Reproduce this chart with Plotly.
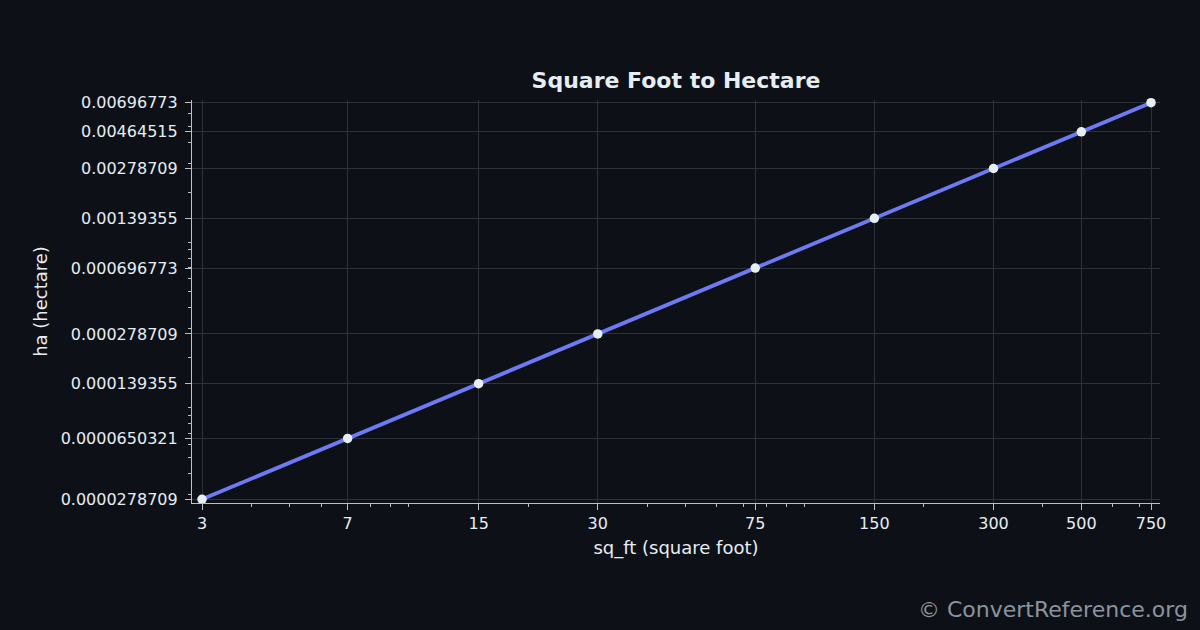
import plotly.graph_objects as go

# Data
sq_ft = [3, 7, 15, 30, 75, 150, 300, 500, 750]
hectare = [0.0000278709, 0.0000650321, 0.000139355, 0.000278709, 0.000696773,
           0.00139355, 0.00278709, 0.00464515, 0.00696773]
x_tick_labels = ["3", "7", "15", "30", "75", "150", "300", "500", "750"]
y_tick_labels = ["0.0000278709", "0.0000650321", "0.000139355", "0.000278709", "0.000696773",
                 "0.00139355", "0.00278709", "0.00464515", "0.00696773"]
x_minor = [4, 5, 6, 8, 9, 10, 20, 40, 50, 60, 70, 80, 90, 100, 200, 400, 600, 700]
y_minor = [3e-5, 4e-5, 5e-5, 6e-5, 7e-5, 8e-5, 9e-5, 1e-4, 2e-4, 3e-4, 4e-4, 5e-4,
           6e-4, 7e-4, 8e-4, 9e-4, 1e-3, 2e-3, 3e-3, 4e-3, 5e-3, 6e-3, 7e-3]

BG = "#0d1117"
TXT = "#e6edf3"
SPINE = "#b8c0c8"
GRID = "#2b323b"
FONT = "DejaVu Sans"

fig = go.Figure()
fig.add_trace(go.Scatter(
    x=sq_ft, y=hectare, mode="lines+markers",
    line=dict(color="#6e7af3", width=3.8),
    marker=dict(color="#e6edf3", size=9.5, line=dict(width=0)),
    cliponaxis=False,
    showlegend=False,
))

fig.update_layout(
    width=1200, height=630,
    paper_bgcolor=BG, plot_bgcolor=BG,
    margin=dict(l=192, r=40, t=100, b=127),
    font=dict(family=FONT, color=TXT, size=16),
    title=dict(text="<b>Square Foot to Hectare</b>", x=0.5, xref="paper",
               y=1 - 80 / 630, yref="container", xanchor="center", yanchor="middle",
               font=dict(size=22, color=TXT, family=FONT)),
    annotations=[dict(text="© ConvertReference.org", xref="paper", yref="paper",
                      x=(1190 - 192) / 968, y=(503 - 609) / 403,
                      xanchor="right", yanchor="middle", showarrow=False,
                      font=dict(size=22, color="#8b949e", family=FONT))],
)

fig.update_xaxes(
    type="log", range=[0.4518, 2.8978],
    tickmode="array", tickvals=sq_ft, ticktext=x_tick_labels,
    ticks="outside", ticklen=6, tickwidth=1.2, tickcolor=SPINE,
    showline=True, linecolor=SPINE, linewidth=1.2,
    showgrid=True, gridcolor=GRID, gridwidth=1, zeroline=False,
    tickfont=dict(size=16, color=TXT),
    minor=dict(tickmode="array", tickvals=x_minor, ticks="outside", ticklen=3,
               tickwidth=1, tickcolor=SPINE, showgrid=False),
    title=dict(text="sq_ft (square foot)", font=dict(size=18, color=TXT), standoff=9),
)
fig.update_yaxes(
    type="log", range=[-4.5773, -2.1406],
    tickmode="array", tickvals=hectare, ticktext=y_tick_labels,
    ticks="outside", ticklen=6, tickwidth=1.2, tickcolor=SPINE,
    showline=True, linecolor=SPINE, linewidth=1.2,
    showgrid=True, gridcolor=GRID, gridwidth=1, zeroline=False,
    tickfont=dict(size=16, color=TXT), ticklabelstandoff=4,
    minor=dict(tickmode="array", tickvals=y_minor, ticks="outside", ticklen=3,
               tickwidth=1, tickcolor=SPINE, showgrid=False),
    title=dict(text="ha (hectare)", font=dict(size=18, color=TXT), standoff=8),
)

fig.write_html("out.html")
